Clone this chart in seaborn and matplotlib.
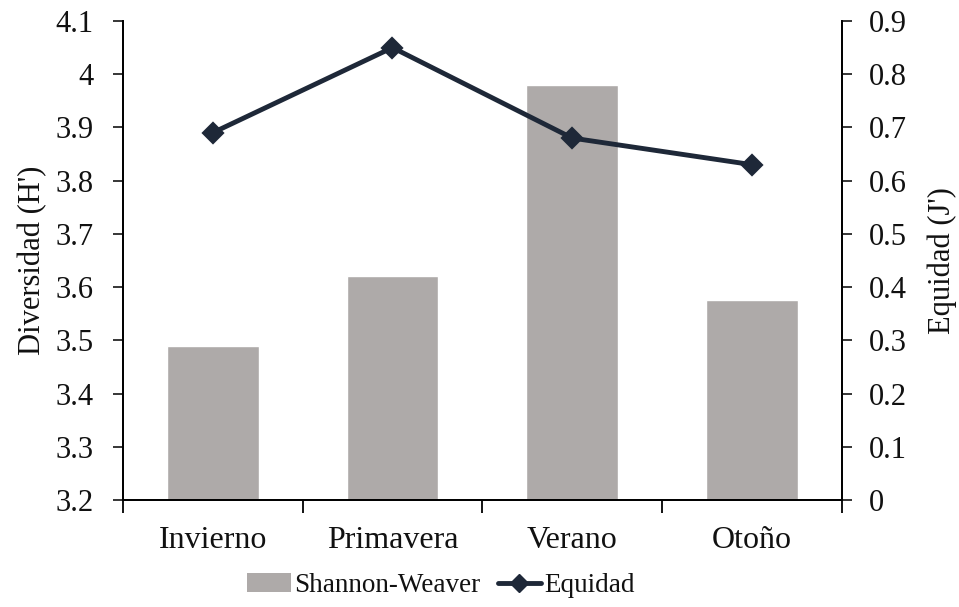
import matplotlib
matplotlib.use("Agg")
import matplotlib.pyplot as plt
from matplotlib.patches import Patch
from matplotlib.lines import Line2D
from matplotlib.ticker import FuncFormatter, FixedLocator
import seaborn as sns
import pandas as pd

# Seasonal diversity data
estaciones = ["Invierno", "Primavera", "Verano", "Otoño"]
shannon = [3.49, 3.62, 3.98, 3.575]
equidad = [0.69, 0.85, 0.68, 0.63]

bar_color = "#aeaaa9"
line_color = "#1e2838"
text_color = "#111111"

sns.set_theme(style="white")
plt.rcParams["font.family"] = ["Liberation Serif", "DejaVu Serif"]
plt.rcParams["axes.linewidth"] = 1.3

df = pd.DataFrame({"estacion": estaciones, "H": shannon, "J": equidad})

fig = plt.figure(figsize=(9.59, 6.07), dpi=100)
ax = fig.add_axes([0.128, 0.1763, 0.750, 0.7891])

sns.barplot(data=df, x="estacion", y="H", color=bar_color, width=0.51,
            saturation=1, ax=ax, zorder=1)
ax.set_ylim(3.2, 4.1)
ax.set_yticks([3.2, 3.3, 3.4, 3.5, 3.6, 3.7, 3.8, 3.9, 4.0, 4.1])
ax.yaxis.set_major_formatter(FuncFormatter(lambda v, p: f"{v:g}"))
ax.set_xlim(-0.5, 3.5)

# Category labels centred under bars, tick marks at category boundaries
ax.xaxis.set_major_locator(FixedLocator([-0.5, 0.5, 1.5, 2.5, 3.5]))
ax.xaxis.set_minor_locator(FixedLocator([0, 1, 2, 3]))
ax.set_xticklabels([])
ax.set_xticklabels(estaciones, minor=True)
ax.tick_params(axis="x", which="major", direction="out", length=9, width=1.3,
               bottom=True, colors="black")
ax.tick_params(axis="x", which="minor", length=0, pad=19, labelsize=23,
               labelcolor=text_color)
ax.tick_params(axis="y", direction="out", length=7, width=1.3, left=True,
               labelsize=22, labelcolor=text_color, pad=14)
ax.set_xlabel("")
ax.set_ylabel("Diversidad (H')", fontsize=22, color=text_color, labelpad=6)

ax2 = ax.twinx()
sns.pointplot(data=df, x="estacion", y="J", color=line_color, markers="D",
              linestyles="-", ax=ax2, markersize=9, linewidth=3.5,
              native_scale=False)
ax2.set_xlim(-0.5, 3.5)
ax2.set_ylim(0, 0.9)
ax2.set_yticks([0, 0.1, 0.2, 0.3, 0.4, 0.5, 0.6, 0.7, 0.8, 0.9])
ax2.yaxis.set_major_formatter(FuncFormatter(lambda v, p: f"{v:g}"))
ax2.tick_params(axis="y", direction="out", length=7, width=1.3, right=True,
                labelsize=22, labelcolor=text_color, pad=12)
ax2.set_ylabel("Equidad (J')", fontsize=22, color=text_color, labelpad=15)
ax2.set_xlabel("")

for a in (ax, ax2):
    a.spines["top"].set_visible(False)
    for s in ("left", "right", "bottom"):
        a.spines[s].set_color("black")
        a.spines[s].set_linewidth(1.3)

handles = [
    Patch(facecolor=bar_color, edgecolor="none", label="Shannon-Weaver"),
    Line2D([0], [0], color=line_color, lw=3.5, marker="D", markersize=9,
           label="Equidad"),
]
fig.legend(handles=handles, loc="center", bbox_to_anchor=(0.46, 0.035),
           ncol=2, frameon=False, fontsize=19.5, handlelength=1.6,
           handletextpad=0.12, columnspacing=0.65, labelcolor=text_color)

fig.savefig("out.png", dpi=100)
